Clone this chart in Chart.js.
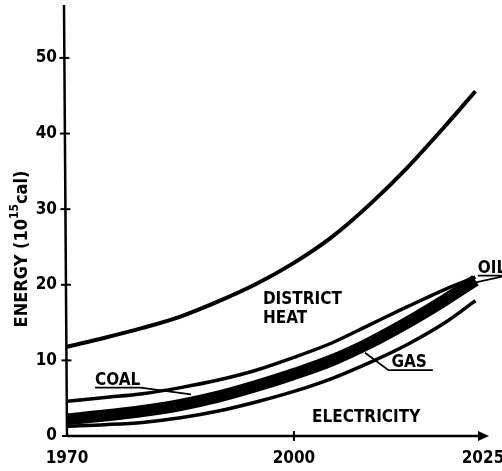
<!DOCTYPE html>
<html><head><meta charset="utf-8">
<script src="https://cdn.jsdelivr.net/npm/chart.js@4.4.0/dist/chart.umd.min.js"></script>
<style>html,body{margin:0;padding:0;background:#fff}#wrap{width:502px;height:471px}</style>
</head><body><div id="wrap"><canvas id="c" width="502" height="471"></canvas></div>
<script>
// ---- data (10^15 cal, cumulative boundaries) ----
const years = [1970,1975,1980,1985,1990,1995,2000,2005,2010,2015,2020,2024];
const totalLine = [11.8,13.0,14.3,15.8,17.8,20.1,22.9,26.3,30.6,35.5,41.0,45.6];
const coalLine  = [4.6,5.1,5.6,6.4,7.4,8.7,10.4,12.3,14.7,17.1,19.4,21.0];
const oilBand   = [2.2,2.7,3.3,4.1,5.2,6.6,8.2,10.0,12.3,15.0,18.0,20.6];
const gasLine   = [1.3,1.5,1.8,2.4,3.3,4.5,5.9,7.6,9.7,12.1,15.0,17.9];
const xTicks = [1970,2000,2025];
const yTicks = [0,10,20,30,40,50];
const yTitle = ['ENERGY (10','15','cal)'];
// region labels: [text, year, value]
const regionLabels = [
  ['DISTRICT',1995.9,17.4],
  ['HEAT',1995.9,15.0],
  ['COAL',1973.7,6.8],
  ['GAS',2012.9,9.1],
  ['ELECTRICITY',2002.4,1.9],
  ['OIL',2024.3,21.6]
];

const FONT = "'DejaVu Sans Condensed','DejaVu Sans',sans-serif";
const mk = (label, data, w) => ({
  label, data: years.map((y,i)=>({x:y,y:data[i]})),
  borderColor:'#000', borderWidth:w, pointRadius:0, tension:0.4,
  cubicInterpolationMode:'monotone', fill:false, borderCapStyle:'butt'
});

const axesPlugin = {
  id:'axes',
  afterDraw(chart){
    const c = chart.ctx, xs = chart.scales.x, ys = chart.scales.y;
    const x0 = xs.getPixelForValue(1970), y0 = ys.getPixelForValue(0);
    const xEnd = xs.getPixelForValue(2025);
    c.save();
    c.strokeStyle='#000'; c.fillStyle='#000'; c.lineWidth=2.5;
    c.beginPath(); c.moveTo(x0,y0); c.lineTo(x0-3, ys.top); c.stroke();
    c.beginPath(); c.moveTo(x0,y0); c.lineTo(xEnd+2,y0); c.stroke();
    // arrow
    c.beginPath(); c.moveTo(xEnd+6,y0); c.lineTo(xEnd-5,y0-5); c.lineTo(xEnd-5,y0+5); c.closePath(); c.fill();
    c.lineWidth=2;
    yTicks.forEach(v=>{ if(v===0) return; const p=ys.getPixelForValue(v);
      const xa = x0 - 3*(p-y0)/(ys.top-y0);
      c.beginPath(); c.moveTo(xa-5,p); c.lineTo(xa+5,p); c.stroke(); });
    c.beginPath(); c.moveTo(x0-5,y0); c.lineTo(x0+2,y0); c.stroke();
    xTicks.forEach(v=>{ if(v===1970||v===2025) return; const p=xs.getPixelForValue(v);
      c.beginPath(); c.moveTo(p,y0-5); c.lineTo(p,y0+5); c.stroke(); });
    // y title
    c.translate(22, 249); c.rotate(-Math.PI/2);
    c.textBaseline='middle'; c.textAlign='left';
    const f1 = 'bold 18px '+FONT, f2 = 'bold 12px '+FONT;
    c.font=f1; const w1=c.measureText(yTitle[0]).width;
    c.font=f2; const w2=c.measureText(yTitle[1]).width;
    c.font=f1; const w3=c.measureText(yTitle[2]).width;
    let sx = -(w1+w2+w3)/2;
    c.font=f1; c.fillText(yTitle[0], sx, 0); sx+=w1;
    c.font=f2; c.fillText(yTitle[1], sx, -7); sx+=w2;
    c.font=f1; c.fillText(yTitle[2], sx, 0);
    c.restore();
  }
};

const labelPlugin = {
  id:'labels',
  afterDraw(chart){
    const c = chart.ctx, xs = chart.scales.x, ys = chart.scales.y;
    const P = (x,y)=>[xs.getPixelForValue(x), ys.getPixelForValue(y)];
    c.save();
    c.fillStyle='#000'; c.strokeStyle='#000'; c.font='bold 17px '+FONT;
    c.textBaseline='alphabetic'; c.textAlign='left';
    const pos = {};
    regionLabels.forEach(([t,x,y])=>{ const [px,py]=P(x,y); c.fillText(t,px,py); pos[t]=[px,py,c.measureText(t).width]; });
    c.lineWidth=1.8;
    // COAL underline + leader
    let [px,py,w] = pos.COAL;
    c.beginPath(); c.moveTo(px,py+3); c.lineTo(px+w,py+3);
    let [lx,ly] = P(1986.4,5.5); c.lineTo(lx,ly); c.stroke();
    // GAS underline + leader
    [px,py,w] = pos.GAS;
    [lx,ly] = P(2009.4,11.0);
    c.beginPath(); c.moveTo(lx,ly); c.lineTo(px-3,py+3); c.lineTo(px+w+6,py+3); c.stroke();
    // OIL underline + leader
    [px,py,w] = pos.OIL;
    [lx,ly] = P(2023.0,20.1);
    c.beginPath(); c.moveTo(px,py+3); c.lineTo(px+w,py+3); c.lineTo(lx,ly); c.stroke();
    c.restore();
  }
};

new Chart(document.getElementById('c').getContext('2d'), {
  type:'line',
  data:{datasets:[
    mk('District heat (total)', totalLine, 4),
    mk('Coal', coalLine, 3.5),
    mk('Oil', oilBand, 12),
    mk('Gas', gasLine, 3.5)
  ]},
  options:{
    responsive:false, animation:false, devicePixelRatio:1,
    layout:{padding:{left:0,right:19,top:5,bottom:0}},
    plugins:{legend:{display:false}, tooltip:{enabled:false}, title:{display:false}},
    scales:{
      x:{type:'linear', min:1970, max:2025,
        afterBuildTicks:s=>{s.ticks=xTicks.map(v=>({value:v}));},
        grid:{display:false, drawTicks:false}, border:{display:false},
        ticks:{color:'#000', font:{family:FONT,size:17,weight:'bold'}, padding:12, autoSkip:false, maxRotation:0, callback:v=>String(v)},
        afterFit:s=>{s.height=35; s.paddingLeft=0; s.paddingRight=0;}
      },
      y:{type:'linear', min:0, max:57,
        afterBuildTicks:s=>{s.ticks=yTicks.map(v=>({value:v}));},
        grid:{display:false, drawTicks:false}, border:{display:false},
        ticks:{color:'#000', font:{family:FONT,size:17,weight:'bold'}, padding:10, callback:v=>String(v)},
        afterFit:s=>{s.width=67; s.paddingTop=0; s.paddingBottom=0;}
      }
    }
  },
  plugins:[axesPlugin,labelPlugin]
});
</script></body></html>
